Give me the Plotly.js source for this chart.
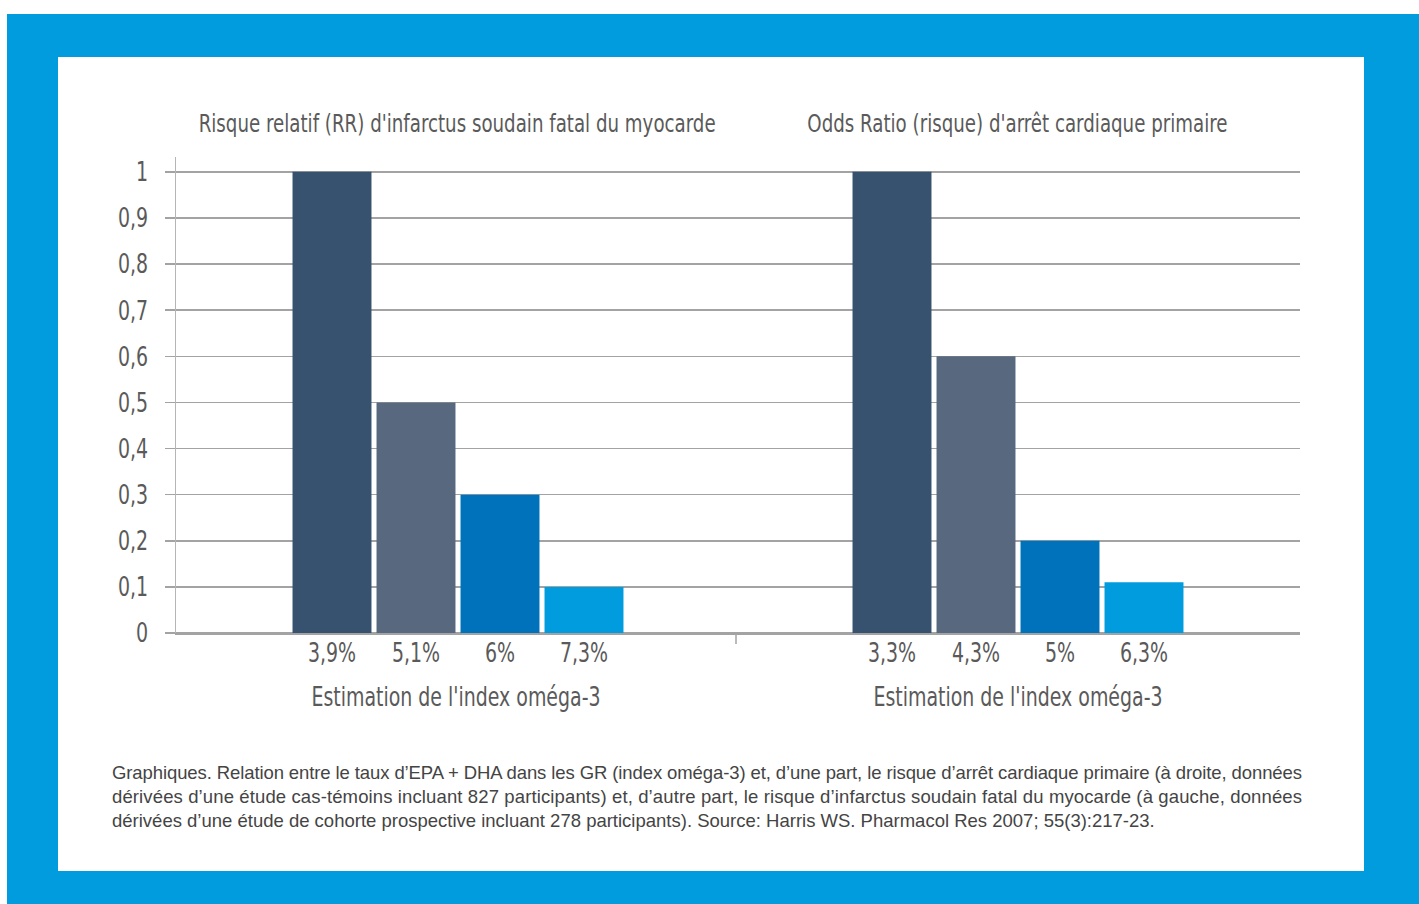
<!DOCTYPE html>
<html>
<head>
<meta charset="utf-8">
<script src="https://cdn.plot.ly/plotly-3.0.1.min.js"></script>
<style>
  html, body { margin: 0; padding: 0; background: #ffffff; width: 1419px; height: 904px; overflow: hidden; }
  #frame { position: absolute; left: 7px; top: 14px; width: 1412px; height: 890px; background: #009cde; }
  #chart { position: absolute; left: 58px; top: 57px; width: 1306px; height: 814px; background: #ffffff; }
</style>
</head>
<body>
<div id="frame"></div>
<div id="chart"></div>
<script>
// ---- data ----
const leftTitle = "Risque relatif (RR) d'infarctus soudain fatal du myocarde";
const rightTitle = "Odds Ratio (risque) d'arrêt cardiaque primaire";
const xAxisTitle = "Estimation de l'index oméga-3";
const leftCategories = ["3,9%", "5,1%", "6%", "7,3%"];
const leftValues = [1, 0.5, 0.3, 0.1];
const rightCategories = ["3,3%", "4,3%", "5%", "6,3%"];
const rightValues = [1, 0.6, 0.2, 0.11];
const yTickVals = [0, 0.1, 0.2, 0.3, 0.4, 0.5, 0.6, 0.7, 0.8, 0.9, 1];
const yTickText = ["0", "0,1", "0,2", "0,3", "0,4", "0,5", "0,6", "0,7", "0,8", "0,9", "1"];
const captionLines = [
  "Graphiques. Relation entre le taux d’EPA + DHA dans les GR (index oméga-3) et, d’une part, le risque d’arrêt cardiaque primaire (à droite, données",
  "dérivées d’une étude cas-témoins incluant 827 participants) et, d’autre part, le risque d’infarctus soudain fatal du myocarde (à gauche, données",
  "dérivées d’une étude de cohorte prospective incluant 278 participants). Source: Harris WS. Pharmacol Res 2007; 55(3):217-23."
];

// ---- styles ----
const barColors = ["#37526f", "#58687f", "#0072bb", "#009cde"];
const condFont = "'DejaVu Sans Condensed', 'DejaVu Sans', sans-serif";
const textGray = "#5a5a5a";
const gridGray = "#a3a3a3";
const condense = 0.78;       // horizontal squeeze for axis texts
const condenseTitle = 0.81;  // horizontal squeeze for chart titles
const justifyWidth = 1190;   // caption justified line width (px)

const traces = [
  { type: "bar", x: leftCategories, y: leftValues, xaxis: "x", yaxis: "y",
    marker: { color: barColors }, hoverinfo: "x+y" },
  { type: "bar", x: rightCategories, y: rightValues, xaxis: "x2", yaxis: "y",
    marker: { color: barColors }, hoverinfo: "x+y" }
];

const split = 560 / 1124;

const xCommon = {
  type: "category",
  showgrid: false,
  zeroline: false,
  showline: true,
  linecolor: gridGray,
  linewidth: 1.5,
  ticks: "",
  ticklen: 0,
  ticklabelstandoff: -5,
  tickfont: { family: condFont, size: 27, color: textGray },
  title: { text: xAxisTitle, font: { family: condFont, size: 27, color: textGray }, standoff: 20 },
  fixedrange: true
};

const annotations = [
  { text: leftTitle, xref: "paper", yref: "paper", x: (457 - 176) / 1124, y: (633 - 123) / 476,
    showarrow: false, xanchor: "center", yanchor: "middle",
    font: { family: condFont, size: 25, color: textGray } },
  { text: rightTitle, xref: "paper", yref: "paper", x: (1017 - 176) / 1124, y: (633 - 123) / 476,
    showarrow: false, xanchor: "center", yanchor: "middle",
    font: { family: condFont, size: 25, color: textGray } }
];
const captionY = [772, 796, 820];
captionLines.forEach((line, i) => {
  annotations.push({
    text: line, xref: "paper", yref: "paper", x: (110 - 176) / 1124, y: (633 - captionY[i]) / 476,
    showarrow: false, xanchor: "left", yanchor: "middle", align: "left",
    font: { family: "'Liberation Sans', Arial, sans-serif", size: 18.5, color: "#444444" }
  });
});

const layout = {
  width: 1306,
  height: 814,
  margin: { l: 118, r: 64, t: 100, b: 238 },
  paper_bgcolor: "#ffffff",
  plot_bgcolor: "#ffffff",
  showlegend: false,
  bargap: 0.06,
  xaxis: Object.assign({}, xCommon, { domain: [0, split], anchor: "y",
    range: [1.5 - 282 / 84, 1.5 + 278 / 84] }),
  xaxis2: Object.assign({}, xCommon, { domain: [split, 1], anchor: "y",
    range: [1.5 - 282 / 84, 1.5 + 282 / 84] }),
  yaxis: {
    range: [0, 1.032],
    tickvals: yTickVals,
    ticktext: yTickText,
    ticks: "outside",
    ticklen: 10,
    tickcolor: gridGray,
    tickwidth: 1.5,
    showgrid: true,
    gridcolor: gridGray,
    gridwidth: 1.5,
    zeroline: true,
    zerolinecolor: gridGray,
    zerolinewidth: 1.5,
    showline: true,
    linecolor: "#b5b5b5",
    linewidth: 1.5,
    ticklabelstandoff: 11,
    tickfont: { family: condFont, size: 27, color: textGray },
    fixedrange: true
  },
  shapes: [
    { type: "line", xref: "paper", yref: "paper", x0: split, x1: split, y0: 0, y1: -11 / 476,
      line: { color: gridGray, width: 1.5 } }
  ],
  annotations: annotations
};

Plotly.newPlot("chart", traces, layout, { displayModeBar: false, staticPlot: true }).then(gd => {
  const squeezeBy = f => el => {
    const w = el.getComputedTextLength();
    el.setAttribute("textLength", (w * f).toFixed(1));
    el.setAttribute("lengthAdjust", "spacingAndGlyphs");
  };
  [".xtick text", ".x2tick text", ".ytick text", ".g-xtitle text", ".g-x2title text"]
    .forEach(s => gd.querySelectorAll(s).forEach(squeezeBy(condense)));
  ['g.annotation[data-index="0"] text', 'g.annotation[data-index="1"] text']
    .forEach(s => gd.querySelectorAll(s).forEach(squeezeBy(condenseTitle)));
  ['g.annotation[data-index="2"] text', 'g.annotation[data-index="3"] text'].forEach(s => {
    gd.querySelectorAll(s).forEach(el => {
      el.setAttribute("textLength", justifyWidth);
      el.setAttribute("lengthAdjust", "spacing");
    });
  });
});
</script>
</body>
</html>
